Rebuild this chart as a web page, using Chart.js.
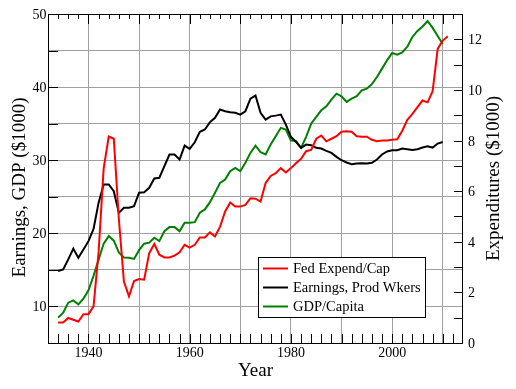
<!DOCTYPE html>
<html>
<head>
<meta charset="utf-8">
<script src="https://cdn.jsdelivr.net/npm/chart.js@4.4.1/dist/chart.umd.min.js"></script>
<style>
  body { margin: 0; background: #fff; }
  #wrap { width: 516px; height: 389px; }
</style>
</head>
<body>
<div id="wrap"><canvas id="wykres" width="516" height="389"></canvas></div>
<script>
const years = [1934, 1935, 1936, 1937, 1938, 1939, 1940, 1941, 1942, 1943, 1944, 1945, 1946, 1947, 1948, 1949,
  1950, 1951, 1952, 1953, 1954, 1955, 1956, 1957, 1958, 1959, 1960, 1961, 1962, 1963, 1964, 1965, 1966, 1967,
  1968, 1969, 1970, 1971, 1972, 1973, 1974, 1975, 1976, 1977, 1978, 1979, 1980, 1981, 1982, 1983, 1984, 1985,
  1986, 1987, 1988, 1989, 1990, 1991, 1992, 1993, 1994, 1995, 1996, 1997, 1998, 1999, 2000, 2001, 2002, 2003,
  2004, 2005, 2006, 2007, 2008, 2009, 2010, 2011];

// Fed Expend/Cap, right axis ($1000), 1934-2011
const fedExpend = [0.81, 0.81, 0.99, 0.92, 0.85, 1.14, 1.14, 1.45, 3.6, 6.9, 8.16, 8.07, 4.9, 2.43, 1.84, 2.45,
  2.53, 2.5, 3.55, 3.91, 3.49, 3.38, 3.38, 3.45, 3.58, 3.88, 3.77, 3.88, 4.17, 4.17, 4.37, 4.21, 4.6, 5.2,
  5.55, 5.39, 5.39, 5.46, 5.72, 5.7, 5.59, 6.32, 6.6, 6.71, 6.91, 6.74, 6.91, 7.1, 7.28, 7.58, 7.63, 8.07,
  8.2, 7.97, 8.07, 8.17, 8.35, 8.37, 8.35, 8.17, 8.15, 8.15, 8.03, 7.97, 8.0, 8.0, 8.03, 8.05, 8.39, 8.82,
  9.05, 9.32, 9.58, 9.51, 9.95, 11.62, 11.95, 12.12];

// Earnings, Prod Wkers, left axis ($1000), 1934-2010
const earnings = [14.84, 15.07, 16.43, 17.9, 16.67, 17.8, 18.93, 20.6, 24.2, 26.68, 26.68, 25.77, 22.8, 23.5, 23.5, 23.72,
  25.55, 25.63, 26.23, 27.5, 27.6, 29.18, 30.78, 30.78, 30.1, 32.0, 31.56, 32.46, 33.88, 34.2, 35.2, 35.8, 36.93, 36.7,
  36.56, 36.48, 36.24, 36.7, 38.43, 38.84, 36.48, 35.56, 36.0, 36.1, 36.24, 34.88, 33.2, 32.5, 31.69, 32.14, 32.05, 31.69,
  31.6, 31.28, 31.0, 30.46, 30.0, 29.69, 29.45, 29.55, 29.59, 29.55, 29.65, 30.1, 30.78, 31.2, 31.37, 31.37, 31.6, 31.5,
  31.4, 31.5, 31.73, 31.9, 31.73, 32.28, 32.5];

// GDP/Capita, left axis ($1000), 1934-2010
const gdpCapita = [8.47, 9.15, 10.52, 10.83, 10.29, 11.07, 12.2, 14.2, 16.4, 18.6, 19.62, 19.0, 17.4, 16.7, 16.67, 16.5,
  17.7, 18.58, 18.72, 19.4, 18.93, 20.3, 20.85, 20.85, 20.3, 21.45, 21.45, 21.53, 22.81, 23.27, 24.27, 25.55, 26.9, 27.36,
  28.5, 28.96, 28.5, 29.65, 31.0, 32.0, 31.09, 30.78, 32.14, 33.28, 34.43, 34.2, 32.7, 32.65, 31.69, 33.2, 35.0, 35.93,
  36.83, 37.38, 38.29, 39.1, 38.75, 37.98, 38.43, 38.75, 39.56, 39.8, 40.4, 41.39, 42.53, 43.66, 44.67, 44.44, 44.75, 45.53,
  46.86, 47.68, 48.3, 49.04, 48.1, 47.0, 45.9];

const xTicks = [1940, 1950, 1960, 1970, 1980, 1990, 2000, 2010];
const xLabels = [1940, 1960, 1980, 2000];
const leftTicks = [5, 10, 15, 20, 25, 30, 35, 40, 45, 50];
const leftLabels = [10, 20, 30, 40, 50];
const rightLabels = [0, 2, 4, 6, 8, 10, 12];

const serif = "'Liberation Serif', 'Times New Roman', serif";

function punkty(vals) {
  return vals.map((v, i) => ({ x: years[i], y: v }));
}

// ramka, znaczniki do wewnątrz, opisy osi i legenda
const dodatki = {
  id: 'dodatki',
  afterDraw(chart) {
    const ctx = chart.ctx;
    const a = chart.chartArea;
    const sx = chart.scales.x, sy = chart.scales.y, sy1 = chart.scales.y1;
    ctx.save();
    ctx.strokeStyle = '#000';
    ctx.lineWidth = 1;
    ctx.strokeRect(Math.round(a.left) + 0.5, Math.round(a.top) + 0.5,
      Math.round(a.right - a.left) - 1, Math.round(a.bottom - a.top));

    ctx.beginPath();
    for (let yr = 1934; yr <= 2012; yr += 2) {
      const px = Math.round(sx.getPixelForValue(yr)) + 0.5;
      ctx.moveTo(px, a.bottom);
      ctx.lineTo(px, a.bottom - 9);
      ctx.moveTo(px, a.top);
      ctx.lineTo(px, a.top + (yr % 10 === 0 ? 10 : 5));
    }
    for (let v = 10; v < 50; v += 5) {
      const py = Math.round(sy.getPixelForValue(v)) + 0.5;
      ctx.moveTo(a.left, py);
      ctx.lineTo(a.left + 10, py);
    }
    for (let v = 1; v <= 12; v++) {
      const py = Math.round(sy1.getPixelForValue(v)) + 0.5;
      ctx.moveTo(a.right, py);
      ctx.lineTo(a.right - 9, py);
    }
    ctx.stroke();

    // etykiety osi
    ctx.fillStyle = '#000';
    ctx.font = '14px ' + serif;
    ctx.textBaseline = 'alphabetic';
    ctx.textAlign = 'right';
    leftLabels.forEach(v => ctx.fillText(String(v), a.left - 1.5, sy.getPixelForValue(v) + 5));
    ctx.textAlign = 'left';
    rightLabels.forEach(v => ctx.fillText(String(v), a.right + 5, sy1.getPixelForValue(v) + 5));
    ctx.textAlign = 'center';
    xLabels.forEach(v => ctx.fillText(String(v), sx.getPixelForValue(v), a.bottom + 13.5));

    ctx.font = '19px ' + serif;
    ctx.textAlign = 'center';
    ctx.textBaseline = 'middle';
    ctx.fillText('Year', 255.5, 371);
    ctx.save();
    ctx.translate(20, 187.5);
    ctx.rotate(-Math.PI / 2);
    ctx.fillText('Earnings, GDP ($1000)', 0, 0);
    ctx.restore();
    ctx.save();
    ctx.translate(494, 178.5);
    ctx.rotate(-Math.PI / 2);
    ctx.fillText('Expenditures ($1000)', 0, 0);
    ctx.restore();

    // legenda
    ctx.fillStyle = '#fff';
    ctx.fillRect(258, 257, 168, 61);
    ctx.strokeStyle = '#000';
    ctx.strokeRect(258.5, 257.5, 167, 60);
    ctx.font = '14.5px ' + serif;
    ctx.textAlign = 'left';
    const rows = [268.5, 287.5, 306.5];
    chart.data.datasets.forEach((ds, i) => {
      ctx.strokeStyle = ds.borderColor;
      ctx.lineWidth = 2;
      ctx.beginPath();
      ctx.moveTo(263, rows[i]);
      ctx.lineTo(288, rows[i]);
      ctx.stroke();
      ctx.fillStyle = '#000';
      ctx.fillText(ds.label, 293, rows[i] + 1);
    });
    ctx.restore();
  }
};

new Chart(document.getElementById('wykres'), {
  type: 'line',
  data: {
    datasets: [
      { label: 'Fed Expend/Cap', data: punkty(fedExpend), yAxisID: 'y1', borderColor: '#ff0000' },
      { label: 'Earnings, Prod Wkers', data: punkty(earnings), yAxisID: 'y', borderColor: '#000000' },
      { label: 'GDP/Capita', data: punkty(gdpCapita), yAxisID: 'y', borderColor: '#008000' }
    ]
  },
  options: {
    responsive: false,
    animation: false,
    layout: { padding: { top: 14, left: 0, right: 0, bottom: 0 } },
    elements: {
      line: { borderWidth: 2, tension: 0, fill: false },
      point: { radius: 0 }
    },
    plugins: {
      legend: { display: false },
      tooltip: { enabled: false }
    },
    scales: {
      x: {
        type: 'linear',
        position: 'bottom',
        min: 1932,
        max: 2014,
        afterBuildTicks: s => { s.ticks = xTicks.map(v => ({ value: v })); },
        afterFit: s => { s.height = 46; },
        ticks: { display: false },
        grid: { color: '#a0a0a0', drawTicks: false },
        border: { display: false }
      },
      y: {
        position: 'left',
        min: 5,
        max: 50,
        afterBuildTicks: s => { s.ticks = leftTicks.map(v => ({ value: v })); },
        afterFit: s => { s.width = 48; },
        ticks: { display: false },
        grid: { color: '#a0a0a0', drawTicks: false },
        border: { display: false }
      },
      y1: {
        position: 'right',
        min: 0,
        max: 13,
        afterFit: s => { s.width = 53; },
        ticks: { display: false },
        grid: { display: false, drawTicks: false },
        border: { display: false }
      }
    }
  },
  plugins: [dodatki]
});
</script>
</body>
</html>
